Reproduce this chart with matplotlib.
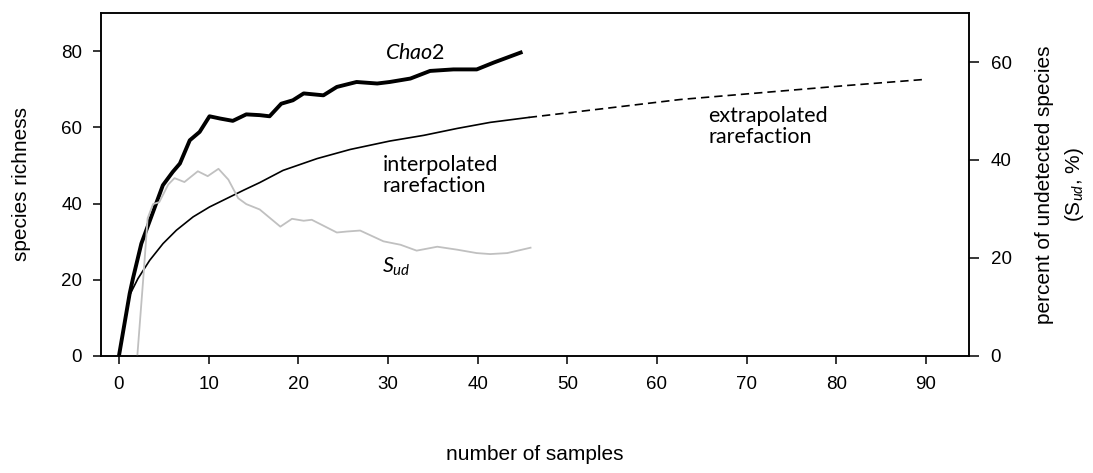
import numpy as np
import matplotlib.pyplot as plt

plt.rcParams['font.family'] = ['Liberation Sans', 'DejaVu Sans']
plt.rcParams['mathtext.fontset'] = 'custom'
plt.rcParams['mathtext.rm'] = 'Lato'
plt.rcParams['mathtext.it'] = 'Lato:italic'

# Chao2 estimate (left axis)
chao_x = [0, 1.2, 1.56, 2.5, 3.6, 4.9, 6.0, 6.8, 7.9, 9.0, 10.1, 11.3, 12.7, 14.2, 15.7,
          16.8, 18.1, 19.4, 20.6, 22.8, 24.3, 26.5, 28.8, 30.2, 32.5, 34.7, 37.3, 39.9,
          41.8, 45.0]
chao_y = [0, 16.4, 20.3, 29.5, 36.5, 44.8, 48.3, 50.5, 56.6, 58.8, 62.9, 62.3, 61.7, 63.4, 63.2,
          62.9, 66.2, 67.1, 68.9, 68.4, 70.6, 71.9, 71.5, 71.9, 72.8, 74.8, 75.2, 75.2,
          77.0, 79.8]

# rarefaction, interpolated part
interp_x = [0, 1.2, 2.12, 3.43, 4.92, 6.41, 8.27, 10.1, 12.0, 13.9, 15.7, 18.3, 22.1, 25.8,
            30.2, 34.0, 37.7, 41.4, 45.7]
interp_y = [0, 16.0, 20.3, 25.1, 29.5, 33.0, 36.5, 39.1, 41.3, 43.5, 45.5, 48.7, 51.8, 54.2,
            56.4, 57.9, 59.7, 61.3, 62.6]

# rarefaction, extrapolated part
extra_x = [45.7, 54.0, 62.6, 72.7, 81.3, 90.0]
extra_y = [62.6, 64.9, 67.3, 69.3, 71.0, 72.6]

# percent of undetected species (right axis)
sud_x = [2.05, 2.7, 3.2, 3.8, 4.5, 5.5, 6.2, 7.3, 8.8, 9.9, 11.1, 12.2, 13.3, 14.2, 15.7,
         18.0, 19.3, 20.6, 21.5, 24.3, 25.4, 26.9, 29.5, 31.4, 33.2, 35.5, 37.7, 39.9,
         41.4, 43.3, 45.9]
sud_y = [0, 15.5, 28.1, 31.0, 31.4, 35.0, 36.3, 35.5, 37.7, 36.7, 38.2, 36.0, 32.2, 31.0, 29.9,
         26.4, 28.0, 27.6, 27.8, 25.2, 25.4, 25.6, 23.4, 22.7, 21.5, 22.3, 21.7, 21.0,
         20.8, 21.0, 22.1]

x_ticks = [0, 10, 20, 30, 40, 50, 60, 70, 80, 90]
left_ticks = [0, 20, 40, 60, 80]
right_ticks = [0, 20, 40, 60]

fig = plt.figure(figsize=(10.93, 4.73), dpi=100)
ax = fig.add_axes([0.0924, 0.2474, 0.7942, 0.7251])
ax2 = ax.twinx()

ax.plot(chao_x, chao_y, color='black', lw=2.8, solid_capstyle='butt',
        solid_joinstyle='round', zorder=3)
ax.plot(interp_x, interp_y, color='black', lw=1.2)
ax.plot(extra_x, extra_y, color='black', lw=1.2, linestyle=(0, (5, 3)))
ax2.plot(sud_x, sud_y, color='#c0c0c0', lw=1.3)

ax.set_xlim(-2, 94.8)
ax.set_ylim(0, 90)
ax2.set_ylim(0, 70)
ax.set_xticks(x_ticks)
ax.set_yticks(left_ticks)
ax2.set_yticks(right_ticks)

for a in (ax, ax2):
    for s in a.spines.values():
        s.set_linewidth(1.1)
    a.tick_params(width=1.1, length=5.5, labelsize=13.5, direction='out')
ax.tick_params(axis='x', pad=9)
ax.tick_params(axis='y', pad=8)
ax2.tick_params(axis='y', length=7.5, pad=8)

ax.set_ylabel('species richness', fontsize=15, labelpad=22)
ax.set_xlabel('number of samples', fontsize=15, labelpad=37)
ax2.set_ylabel('percent of undetected species\n(S$_{\\mathit{ud}}$, %)', fontsize=15,
               labelpad=17, linespacing=1.5)

ax.text(33.0, 79.4, r'$\mathit{Chao}$2', fontsize=15.5, family='Lato', ha='center', va='center')
ax.text(29.4, 47.4, 'interpolated\nrarefaction', fontsize=15.5, family='Lato',
        ha='left', va='center', linespacing=1.1)
ax.text(65.7, 60.2, 'extrapolated\nrarefaction', fontsize=15.5, family='Lato',
        ha='left', va='center', linespacing=1.1)
ax.text(29.3, 23.3, r'$S_{ud}$', fontsize=15.5, family='Lato', ha='left', va='center')

plt.savefig('out.png', dpi=100)
